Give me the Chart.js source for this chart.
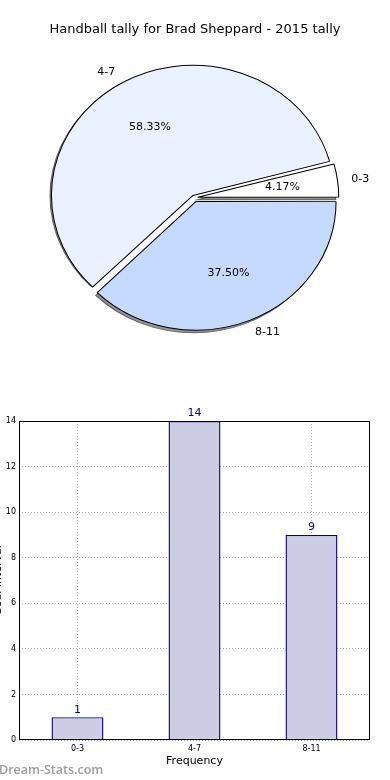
<!DOCTYPE html>
<html>
<head>
<meta charset="utf-8">
<script src="https://cdn.jsdelivr.net/npm/chart.js@4.4.1/dist/chart.umd.min.js"></script>
<style>
    body { margin: 0; background: #fff; width: 390px; height: 780px; position: relative; overflow: hidden; }
    canvas { position: absolute; left: 0; }
    #pieChart { top: 0; }
    #barChart { top: 400px; }
    #mark { position: absolute; left: -1px; top: 761px; font: 600 12.5px "Open Sans", sans-serif; color: #9c9c9c; }
</style>
</head>
<body>
<canvas id="pieChart" width="390" height="400"></canvas>
<canvas id="barChart" width="390" height="380"></canvas>
<div id="mark">Dream-Stats.com</div>
<script>
// tally data
const chartTitle = "Handball tally for Brad Sheppard - 2015 tally";
const categories = ["0-3", "4-7", "8-11"];
const counts = [1, 14, 9];
const pieColors = ["#ffffff", "#eaf1ff", "#c6d9ff"];
const yTicks = [0, 2, 4, 6, 8, 10, 12, 14];
const xTitle = "Frequency";
const yTitle = "Goal Interval";

const FONT = "'DejaVu Sans', sans-serif";

// pie is drawn clockwise from east, so reverse the order (matplotlib goes counter-clockwise)
const pieLabels = categories.slice().reverse();
const pieValues = counts.slice().reverse();
const pieFill = pieColors.slice().reverse();
const total = counts.reduce((a, b) => a + b, 0);

// the reference pie is a bit wider than tall
const PIE = { r: 134, tx: 194.4, ty: 197.7, sx: 1.035, sy: 0.9515 };
const pieOffsets = [17, 11, 12.6];

function arcShift(el) {
    const off = (el.options.offset || 0) / 4;
    const circ = el.endAngle - el.startAngle;
    const fix = 1 - Math.sin(Math.min(Math.PI, circ));
    return off * (1 + fix);
}

const pieShape = {
    id: "pieShape",
    beforeDatasetsDraw(chart) {
        const ctx = chart.ctx;
        const a = chart.chartArea;
        const cx = (a.left + a.right) / 2, cy = (a.top + a.bottom) / 2;
        ctx.save();
        ctx.translate(PIE.tx, PIE.ty);
        ctx.scale(PIE.sx, PIE.sy);
        ctx.translate(-cx, -cy);
        // shadows first, under every wedge
        chart.getDatasetMeta(0).data.forEach(el => {
            const mid = (el.startAngle + el.endAngle) / 2;
            const t = arcShift(el);
            const x = el.x + Math.cos(mid) * t - 2.8;
            const y = el.y + Math.sin(mid) * t + 2.9;
            ctx.beginPath();
            ctx.moveTo(x, y);
            ctx.arc(x, y, el.outerRadius, el.startAngle, el.endAngle);
            ctx.closePath();
            ctx.fillStyle = "rgba(60,60,60,0.55)";
            ctx.fill();
            ctx.strokeStyle = "rgba(30,30,30,0.6)";
            ctx.lineWidth = 1;
            ctx.stroke();
        });
    },
    afterDatasetsDraw(chart) {
        chart.ctx.restore();
    },
    afterDraw(chart) {
        const ctx = chart.ctx;
        const a = chart.chartArea;
        const cx = (a.left + a.right) / 2, cy = (a.top + a.bottom) / 2;
        const toX = x => PIE.tx + PIE.sx * (x - cx);
        const toY = y => PIE.ty + PIE.sy * (y - cy);
        ctx.save();
        ctx.font = "11px " + FONT;
        ctx.fillStyle = "#000";
        ctx.textBaseline = "middle";
        chart.getDatasetMeta(0).data.forEach((el, i) => {
            const mid = (el.startAngle + el.endAngle) / 2;
            const t = arcShift(el);
            const vx = el.x + Math.cos(mid) * t, vy = el.y + Math.sin(mid) * t;
            const R = el.outerRadius;
            const lx = toX(vx + Math.cos(mid) * R * 1.1), ly = toY(vy + Math.sin(mid) * R * 1.1);
            ctx.textAlign = Math.cos(mid) > 0 ? "left" : "right";
            ctx.fillText(pieLabels[i], lx, ly);
            const px = toX(vx + Math.cos(mid) * R * 0.6), py = toY(vy + Math.sin(mid) * R * 0.6);
            ctx.textAlign = "center";
            ctx.fillText((pieValues[i] / total * 100).toFixed(2) + "%", px, py);
        });
        ctx.restore();
    }
};

new Chart(document.getElementById("pieChart"), {
    type: "pie",
    data: {
        labels: pieLabels,
        datasets: [{
            data: pieValues,
            backgroundColor: pieFill,
            borderColor: "#000",
            borderWidth: 1,
            offset: pieOffsets
        }]
    },
    options: {
        responsive: false,
        animation: false,
        events: [],
        rotation: 90,
        radius: PIE.r,
        plugins: {
            legend: { display: false },
            tooltip: { enabled: false },
            title: {
                display: true,
                text: chartTitle,
                color: "#000",
                font: { family: FONT, size: 13, weight: "normal" },
                padding: { top: 22, bottom: 10 }
            }
        }
    },
    plugins: [pieShape]
});

// bar chart
const barExtras = {
    id: "barExtras",
    afterDatasetsDraw(chart) {
        const ctx = chart.ctx;
        ctx.save();
        ctx.font = "11px " + FONT;
        ctx.fillStyle = "#000080";
        ctx.textAlign = "center";
        ctx.textBaseline = "bottom";
        chart.getDatasetMeta(0).data.forEach((el, i) => {
            ctx.fillText(String(counts[i]), el.x, el.y - 2);
        });
        ctx.restore();
    },
    afterDraw(chart) {
        const ctx = chart.ctx;
        const a = chart.chartArea;
        ctx.save();
        ctx.strokeStyle = "#000";
        ctx.lineWidth = 1;
        ctx.strokeRect(a.left + 0.5, a.top + 0.5, a.right - a.left - 1, a.bottom - a.top - 1);
        // y title, mostly cut off by the left edge like the reference
        ctx.translate(-2, (a.top + a.bottom) / 2);
        ctx.rotate(-Math.PI / 2);
        ctx.font = "11px " + FONT;
        ctx.fillStyle = "#000";
        ctx.textAlign = "center";
        ctx.textBaseline = "middle";
        ctx.fillText(yTitle, 0, 0);
        ctx.restore();
    }
};

new Chart(document.getElementById("barChart"), {
    type: "bar",
    data: {
        labels: categories,
        datasets: [{
            data: counts,
            backgroundColor: "#ccccE5",
            borderColor: "#000080",
            borderWidth: 1.4,
            categoryPercentage: 1,
            barPercentage: 0.444
        }]
    },
    options: {
        responsive: false,
        animation: false,
        events: [],
        layout: { padding: { top: 21, right: 20, left: 0, bottom: 0 } },
        plugins: { legend: { display: false }, tooltip: { enabled: false } },
        scales: {
            x: {
                grid: { offset: false, drawTicks: false, color: "#b0b0b0", lineWidth: 1 },
                border: { display: false, dash: [1, 2] },
                ticks: { color: "#000", font: { family: FONT, size: 8 }, padding: 4 },
                title: { display: true, text: xTitle, color: "#000", font: { family: FONT, size: 11 }, padding: { top: 0, bottom: 12 } },
                afterFit: s => { s.height = 40; }
            },
            y: {
                min: yTicks[0],
                max: yTicks[yTicks.length - 1],
                afterBuildTicks: s => { s.ticks = yTicks.map(v => ({ value: v })); },
                grid: { drawTicks: false, color: "#b0b0b0", lineWidth: 1 },
                border: { display: false, dash: [1, 2] },
                ticks: { color: "#000", font: { family: FONT, size: 8 }, padding: 3 },
                afterFit: s => { s.width = 19; }
            }
        }
    },
    plugins: [barExtras]
});
</script>
</body>
</html>
